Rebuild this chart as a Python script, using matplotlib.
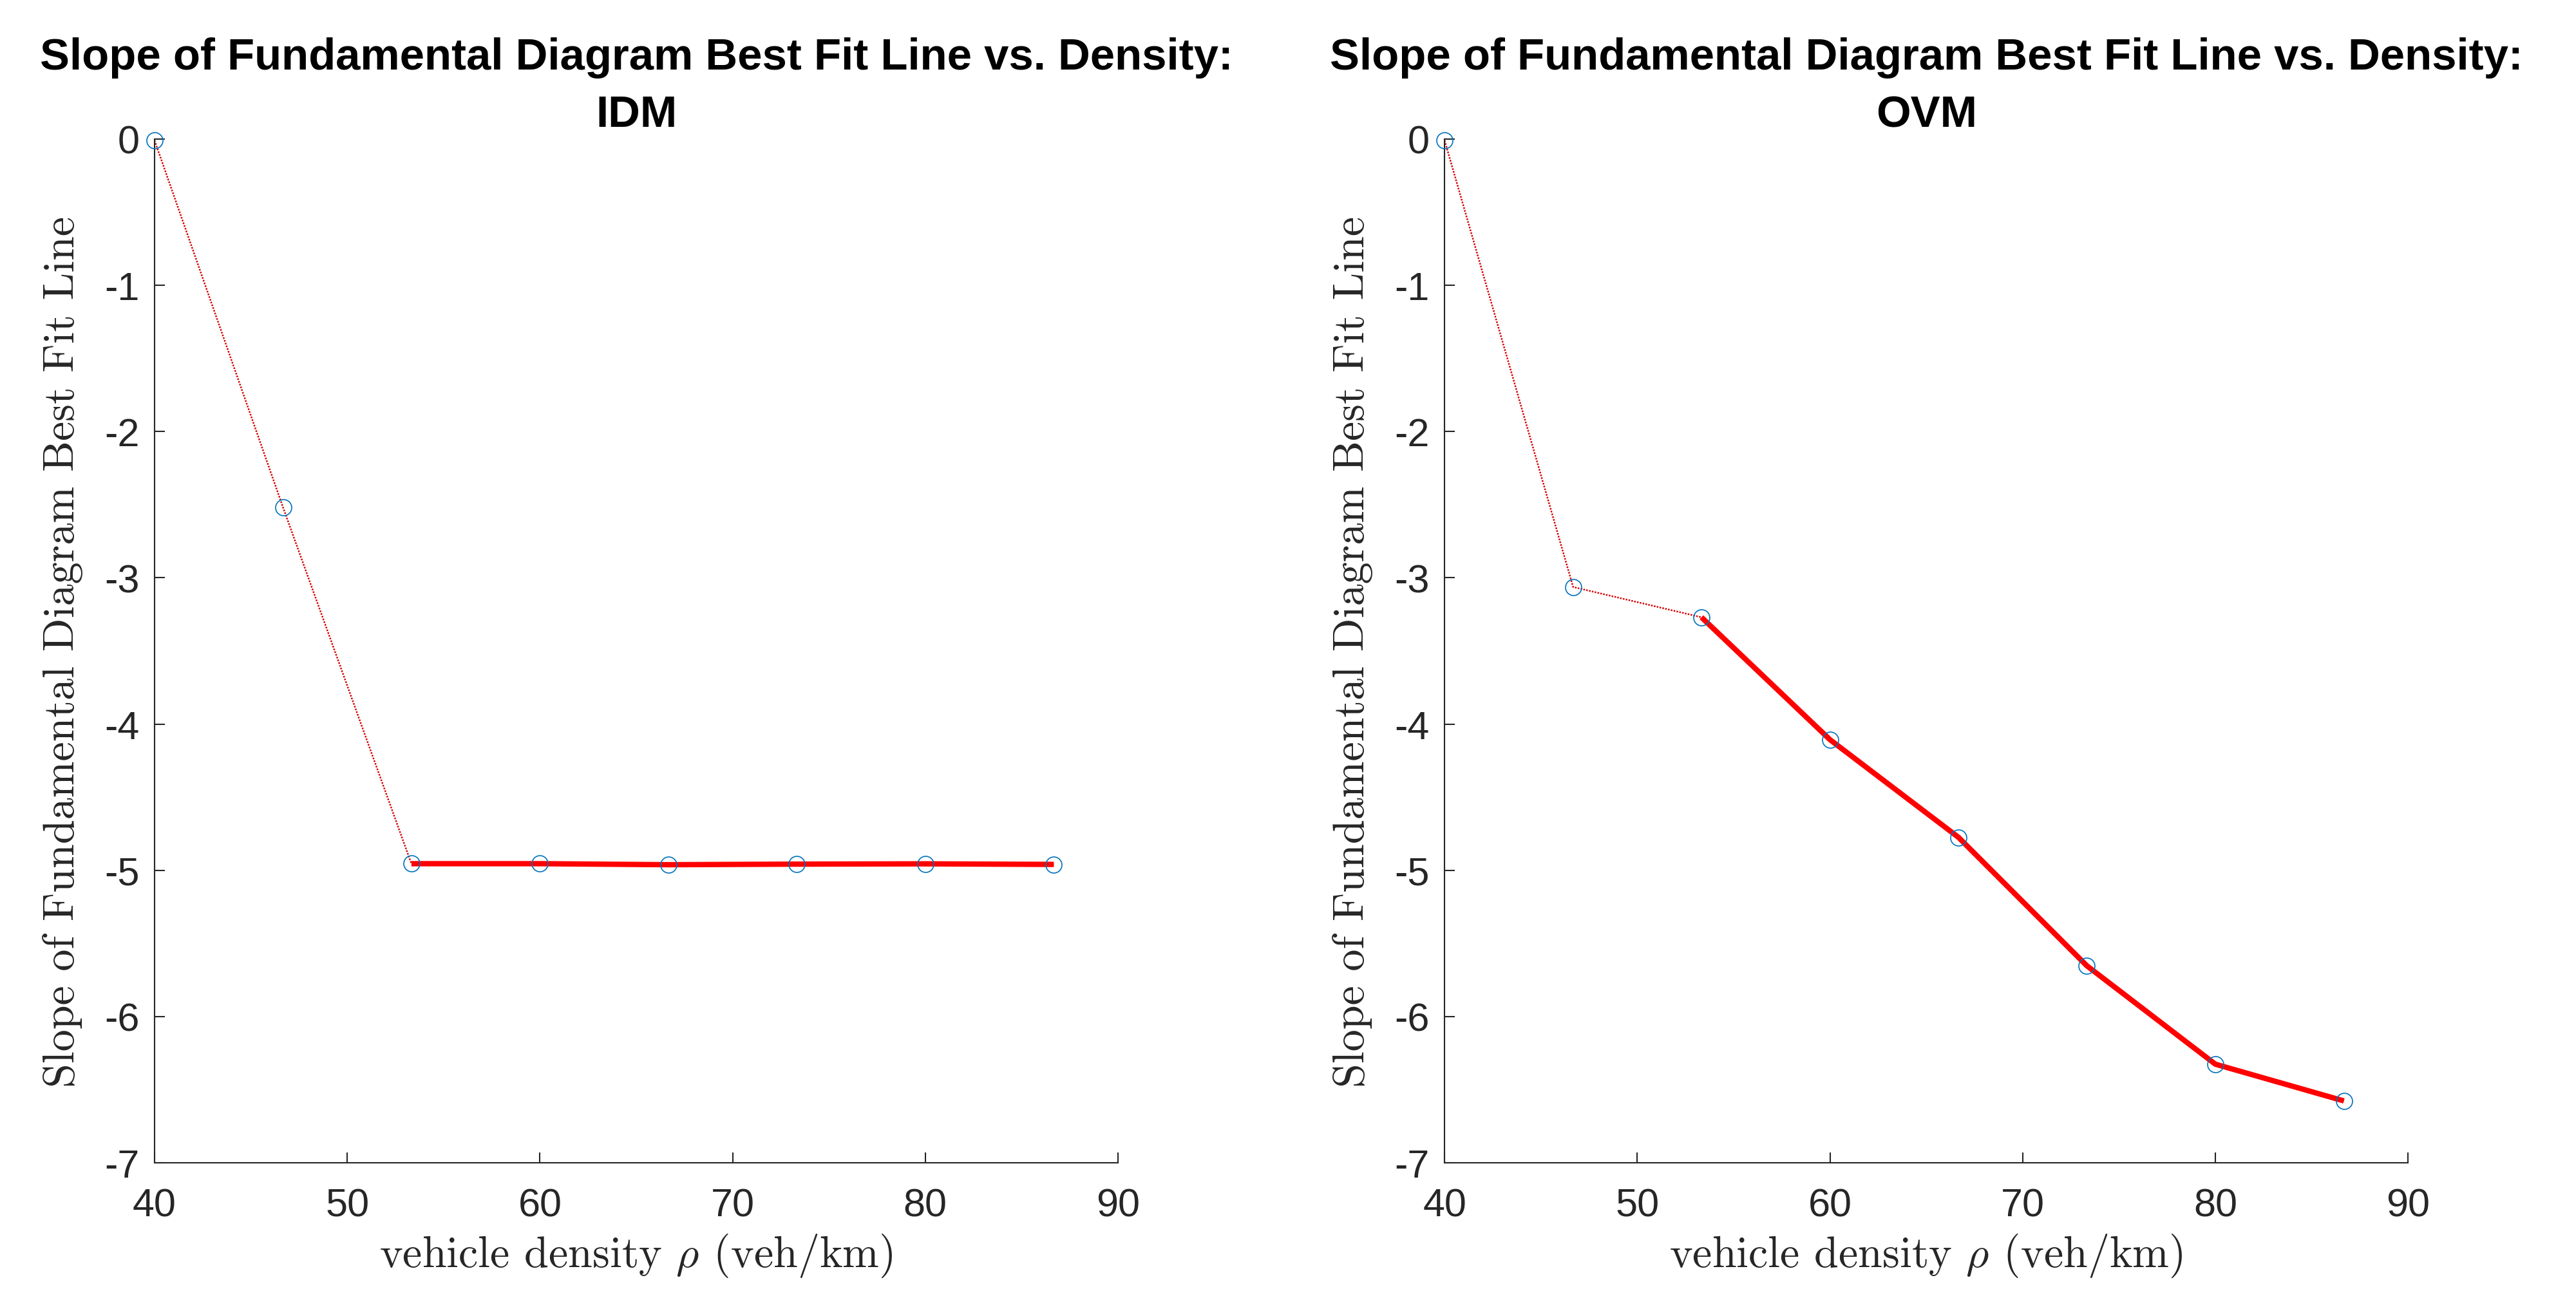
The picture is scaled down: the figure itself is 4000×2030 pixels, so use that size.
import matplotlib
matplotlib.use("Agg")
import matplotlib.pyplot as plt

# ---- data ----
density = [40.0, 46.67, 53.33, 60.0, 66.67, 73.33, 80.0, 86.67]
slope_idm = [-0.01, -2.52, -4.955, -4.955, -4.962, -4.958, -4.956, -4.960]
slope_ovm = [-0.01, -3.063, -3.27, -4.107, -4.775, -5.653, -6.326, -6.577]
fit_start = 2  # index from which the thick best-fit line is drawn
models = ["IDM", "OVM"]
xticks = [40, 50, 60, 70, 80, 90]
yticks = [0, -1, -2, -3, -4, -5, -6, -7]

plt.rcParams['mathtext.fontset'] = 'cm'
plt.rcParams['axes.unicode_minus'] = False

AX_COLOR = '#262626'
BLUE = '#0072BD'
RED = '#FF0000'

fig = plt.figure(figsize=(20, 10.155), dpi=200)
positions = [[0.06, 0.1103, 0.374, 0.7829], [0.5608, 0.1103, 0.374, 0.7829]]

for pos, name, ys in zip(positions, models, [slope_idm, slope_ovm]):
    ax = fig.add_axes(pos)
    ax.plot(density, ys, linestyle=(0, (1, 0.8)), color='#D80000', linewidth=0.9,
            zorder=2, clip_on=False)
    ax.plot(density[fit_start:], ys[fit_start:], '-', color=RED, linewidth=3.0,
            solid_capstyle='butt', solid_joinstyle='round', zorder=3, clip_on=False)
    ax.plot(density, ys, linestyle='none', marker='o', markersize=9,
            markerfacecolor='none', markeredgecolor=BLUE, markeredgewidth=0.6,
            zorder=4, clip_on=False)
    ax.set_xlim(40, 90)
    ax.set_ylim(-7, 0)
    ax.set_xticks(xticks)
    ax.set_yticks(yticks)
    ax.set_xticklabels([str(v) for v in xticks], fontfamily='Liberation Sans', fontsize=22)
    ax.set_yticklabels([str(v) for v in yticks], fontfamily='Liberation Sans', fontsize=22)
    for s in ['top', 'right']:
        ax.spines[s].set_visible(False)
    for s in ['left', 'bottom']:
        ax.spines[s].set_color(AX_COLOR)
        ax.spines[s].set_linewidth(0.75)
    ax.tick_params(axis='both', direction='in', length=5.8, width=0.75,
                   colors=AX_COLOR, labelcolor=AX_COLOR)
    ax.tick_params(axis='x', pad=14)
    ax.tick_params(axis='y', pad=8.5)
    ax.set_title('Slope of Fundamental Diagram Best Fit Line vs. Density:\n' + name,
                 fontfamily='Liberation Sans', fontweight='bold', fontsize=24.8,
                 color='black', pad=7, linespacing=1.5)
    ax.set_xlabel(r'vehicle density $\rho$ (veh/km)', fontfamily='cmr10',
                  fontsize=24.5, color=AX_COLOR, labelpad=4)
    ax.set_ylabel('Slope of Fundamental Diagram Best Fit Line', fontfamily='cmr10',
                  fontsize=24.5, color=AX_COLOR, labelpad=12)

fig.savefig('out.png', dpi=200, facecolor='white')
